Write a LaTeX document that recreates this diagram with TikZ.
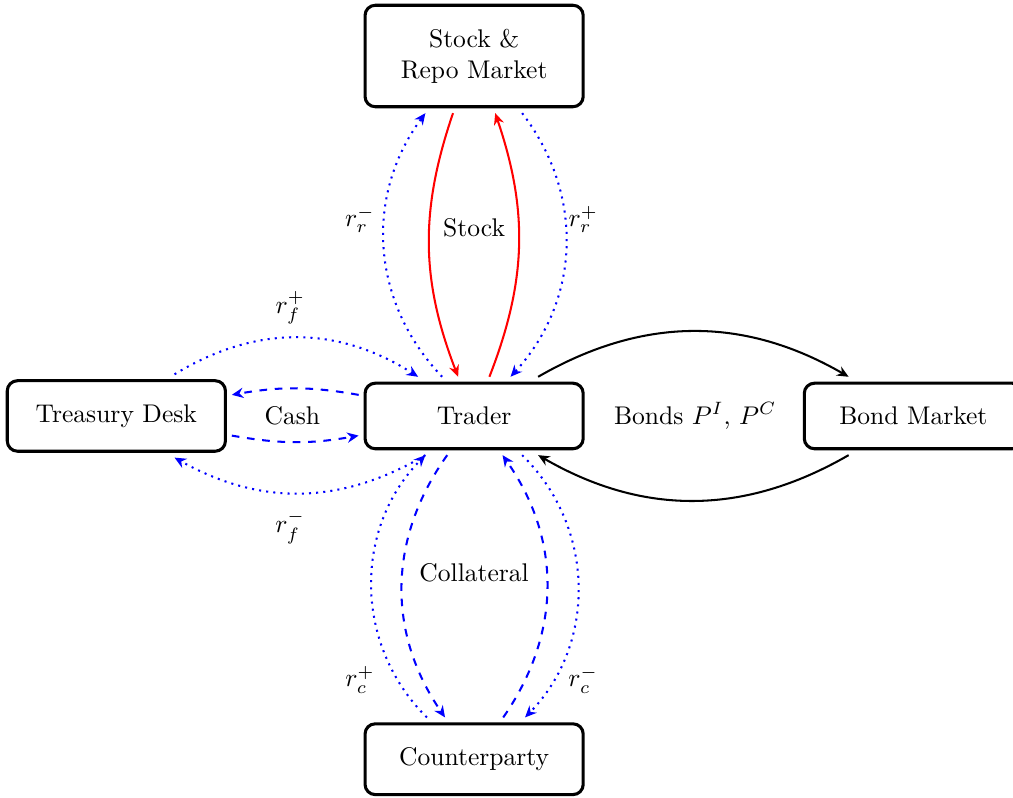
\documentclass[tikz,border=0pt]{standalone}
\usetikzlibrary{arrows.meta}
\tikzset{
  market/.style = {shape=rectangle, rounded corners=4pt,
                   draw, very thick, align=center,
                   minimum width=3cm, inner ysep=9.3pt, outer sep=2.5pt},
  flow/.style   = {thick, -{Stealth[length=4.5pt, width=4pt]}},
  rate/.style   = {flow, blue, dotted},
  coll/.style   = {flow, blue, dashed},
  stk/.style    = {flow, red},
  bnd/.style    = {flow, black}
}

\begin{document}
\begin{tikzpicture}
  \useasboundingbox (-6.52,-5.24) rectangle (7.41,5.72);

  % markets
  \node[market] (trader) at (0,0) {Trader};
  \node[market] (stock) at (0,4.95) {Stock \&\\Repo Market};
  \node[market] (cpty) at (0,-4.72) {Counterparty};
  \node[market] (desk) at (-4.92,0) {Treasury Desk};
  \node[market] (bonds) at (6.04,0) {Bond Market};

  % stock and repo
  \draw[rate] ([xshift=-4.4mm]trader.north) to[bend left=40] ([xshift=-6.7mm]stock.south);
  \draw[stk] ([xshift=-2.9mm]stock.south) to[bend right=20] ([xshift=-2.2mm]trader.north);
  \draw[stk] ([xshift=2.1mm]trader.north) to[bend right=20] ([xshift=2.9mm]stock.south);
  \draw[rate] ([xshift=6.6mm]stock.south) to[bend left=40] ([xshift=5mm]trader.north);
  \node (rrm) at (-1.57,2.70) {$r_r^-$};
  \node (stocklbl) at (0,2.59) {Stock};
  \node (rrp) at (1.50,2.70) {$r_r^+$};

  % counterparty
  \draw[coll] ([xshift=-3.7mm]trader.south) to[bend right=35] ([xshift=-4mm]cpty.north);
  \draw[coll] ([xshift=4mm]cpty.north) to[bend right=35] ([xshift=3.9mm]trader.south);
  \draw[rate] ([xshift=-6.5mm]cpty.north) to[bend left=45] ([xshift=-6.7mm]trader.south);
  \draw[rate] ([xshift=6.6mm]trader.south) to[bend left=45] ([xshift=7mm]cpty.north);
  \node (collat) at (0,-2.16) {Collateral};
  \node (rcp) at (-1.57,-3.63) {$r_c^+$};
  \node (rcm) at (1.50,-3.63) {$r_c^-$};

  % treasury desk
  \draw[rate] ([xshift=8mm]desk.north) to[bend left=32] ([xshift=-7.7mm]trader.north);
  \draw[rate] ([xshift=-6.7mm]trader.south) to[bend left=30] ([xshift=8mm]desk.south);
  \draw[coll] ([yshift=2.9mm]trader.west) to[bend right=10] ([yshift=2.9mm]desk.east);
  \draw[coll] ([yshift=-2.7mm]desk.east) to[bend right=10] ([yshift=-2.7mm]trader.west);
  \node (rfp) at (-2.53,1.49) {$r_f^+$};
  \node (cash) at (-2.50,0) {Cash};
  \node (rfm) at (-2.53,-1.53) {$r_f^-$};

  % bond market
  \draw[bnd] ([xshift=8.8mm]trader.north) to[bend left=30] ([xshift=-8.9mm]bonds.north);
  \draw[bnd] ([xshift=-8.9mm]bonds.south) to[bend left=30] ([xshift=8.8mm]trader.south);
  \node (bondlbl) at (3.04,0) {Bonds $P^I$, $P^C$};
\end{tikzpicture}
\end{document}
